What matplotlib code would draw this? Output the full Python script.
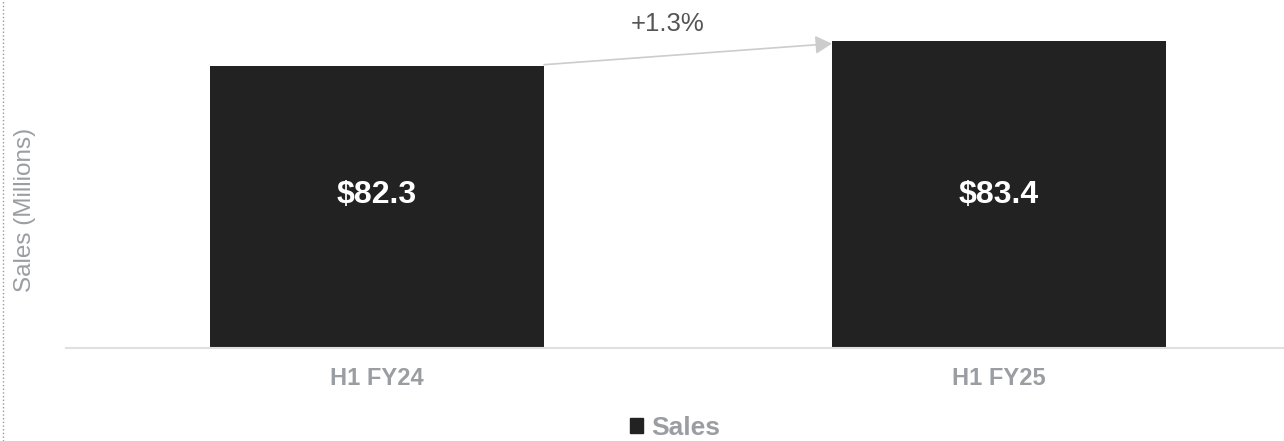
import matplotlib
matplotlib.use("Agg")
import matplotlib.pyplot as plt
from matplotlib.patches import Patch
from matplotlib.lines import Line2D

plt.rcParams['font.family'] = ['Liberation Sans', 'DejaVu Sans']

periods = ['H1 FY24', 'H1 FY25']
sales = [82.3, 83.4]
series_name = 'Sales'

BAR_COLOR = '#222222'
GRAY_TXT = '#9a9da2'
W = 0.537

fig = plt.figure(figsize=(12.84, 4.41), dpi=100)
ax = fig.add_axes([66 / 1284, 93.5 / 441, 1 - 66 / 1284, 1 - 93.5 / 441])

x = list(range(len(periods)))
ax.bar(x, sales, width=W, color=BAR_COLOR, zorder=2)

ax.set_ylim(70, 70 + 347.5 / 22.9)
ax.set_xlim(-0.5, 1 + 285 / 622)

# value labels sit at the same height inside each bar
for xi, v in zip(x, sales):
    ax.text(xi, 0.44, f'${v:.1f}', ha='center', va='center',
            transform=ax.get_xaxis_transform(),
            color='white', fontsize=23, fontweight='bold', zorder=3)

# growth arrow between bar tops
ax.annotate('', xy=(x[1] - W / 2, sales[1] - 0.13), xytext=(x[0] + W / 2, sales[0] + 0.05),
            arrowprops=dict(arrowstyle='-|>,head_length=1.0,head_width=0.55',
                            color='#cccccc', lw=1.2, shrinkA=0, shrinkB=0))
pct = (sales[1] / sales[0] - 1) * 100
ax.text(0.468, 84.13, f'+{pct:.1f}%', ha='center', va='center', fontsize=18.5, color='#555555')

ax.set_xticks(x)
ax.set_xticklabels(periods, fontsize=17, fontweight='bold', color=GRAY_TXT)
ax.tick_params(axis='x', length=0, pad=14)
ax.set_yticks([])
for s in ['top', 'right', 'left']:
    ax.spines[s].set_visible(False)
ax.spines['bottom'].set_color('#e0e0e0')
ax.spines['bottom'].set_linewidth(1.5)

fig.text(25 / 1284, 1 - 210 / 441, 'Sales (Millions)', rotation=90, ha='center', va='center',
         fontsize=17.5, color=GRAY_TXT)

fig.add_artist(Line2D([2.5 / 1284, 2.5 / 1284], [0, 1], transform=fig.transFigure,
                      color='#999999', lw=1, linestyle=':'))

leg = fig.legend([Patch(color=BAR_COLOR)], [series_name], loc='center',
                 bbox_to_anchor=(675 / 1284, 1 - 428 / 441), frameon=False,
                 handlelength=0.5, handleheight=0.52, handletextpad=0.3,
                 borderpad=0, borderaxespad=0,
                 prop={'size': 19, 'weight': 'bold'})
for t in leg.get_texts():
    t.set_color(GRAY_TXT)

fig.savefig('out.png', dpi=100)
